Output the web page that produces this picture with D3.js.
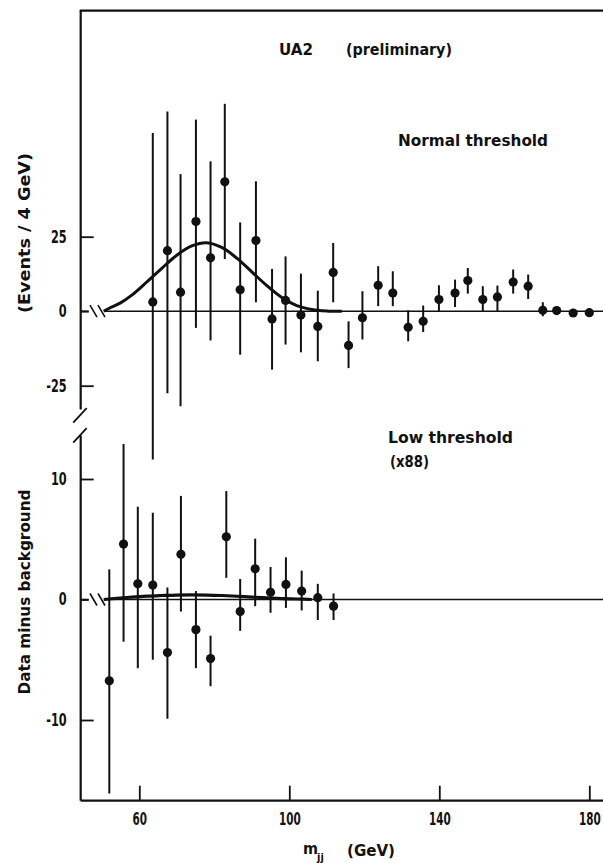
<!DOCTYPE html>
<html>
<head>
<meta charset="utf-8">
<script src="https://cdn.jsdelivr.net/npm/d3@7"></script>
<style>
  html, body { margin: 0; padding: 0; background: #fff; }
  svg { display: block; }
  text { font-family: "Liberation Sans Narrow", "DejaVu Sans Condensed", "DejaVu Sans", sans-serif; font-weight: bold; fill: #111; }
</style>
</head>
<body>
<svg id="chart" width="603" height="863"></svg>
<script>
// ---------- DATA ----------
// Upper panel: normal threshold
const topMass  = [63.6, 67.5, 71.0, 75.1, 79.0, 82.8, 86.9, 91.1, 95.4, 99.0, 103.1, 107.6, 111.7, 115.8, 119.5, 123.7, 127.6, 131.7, 135.7, 139.9, 144.2, 147.6, 151.6, 155.5, 159.7, 163.7, 167.6, 171.3, 175.7, 180.0];
const topValue = [3.1, 20.3, 6.4, 30.1, 17.9, 43.4, 7.2, 23.7, -2.6, 3.6, -1.3, -5.1, 13.0, -11.5, -2.2, 8.7, 6.1, -5.4, -3.4, 3.9, 6.1, 10.3, 3.9, 4.8, 9.8, 8.4, 0.3, 0.2, -0.6, -0.5];
const topHigh  = [59.8, 67.0, 46.0, 64.3, 50.3, 69.6, 29.8, 43.6, 14.2, 18.4, 12.6, 6.9, 22.9, -3.4, 6.7, 15.1, 13.4, 0.3, 1.9, 8.7, 10.6, 14.5, 8.4, 8.6, 14.0, 12.3, 3.0, 1.5, 0.6, 0.6];
const topLow   = [-49.8, -27.5, -31.9, -5.6, -9.8, 17.5, -14.6, 3.0, -19.6, -11.2, -13.8, -16.8, 3.0, -19.1, -9.5, 1.7, 1.7, -10.1, -7.0, 0.0, 1.4, 5.9, 0.0, 0.0, 5.9, 4.1, -1.7, -1.1, -1.8, -1.6];
const topCurveMass  = [50.5, 52, 55, 58, 62, 66, 70, 74, 78, 82, 86, 90, 94, 98, 102, 106, 110, 114];
const topCurveValue = [0, 1.0, 2.8, 5.4, 9.8, 14.4, 18.8, 21.9, 23.0, 21.4, 17.8, 13.2, 8.6, 4.6, 1.9, 0.6, 0.1, 0];

// Lower panel: low threshold (x88)
const botMass  = [52.0, 55.8, 59.6, 63.6, 67.5, 71.1, 75.1, 79.0, 83.2, 86.9, 90.9, 95.0, 99.1, 103.3, 107.6, 111.8];
const botValue = [-6.75, 4.6, 1.3, 1.2, -4.4, 3.75, -2.5, -4.9, 5.2, -1.0, 2.55, 0.6, 1.25, 0.7, 0.15, -0.55];
const botHigh  = [2.5, 12.9, 7.7, 7.2, 1.0, 8.6, 0.7, -3.0, 9.0, 1.7, 5.05, 2.7, 3.5, 2.4, 1.3, 0.5];
const botLow   = [-16.1, -3.5, -5.7, -5.0, -9.9, -1.0, -5.7, -7.2, 1.8, -2.6, -0.55, -1.1, -0.7, -0.9, -1.7, -1.7];
const botCurveMass  = [50.5, 54, 58, 62, 66, 70, 74, 78, 82, 86, 90, 94, 98, 102, 106];
const botCurveValue = [0, 0.1, 0.2, 0.28, 0.33, 0.37, 0.38, 0.37, 0.33, 0.27, 0.2, 0.14, 0.08, 0.04, 0];

// Ticks
const xTicks = [60, 100, 140, 180];
const topTicks = [25, 0, -25];
const botTicks = [10, 0, -10];

// ---------- LAYOUT ----------
const svg = d3.select("#chart");
const L = 80.7, R = 603, T = 10.7, B = 800.7;
const ink = "#111";
const FONT = '"Liberation Sans Narrow", "DejaVu Sans Condensed", "DejaVu Sans", sans-serif';
const SX = 0.68; // horizontal condensing of tick labels

const x = d3.scaleLinear().domain([60, 180]).range([139.3, 589.3]);
const yTop = d3.scaleLinear().domain([-25, 25]).range([385.7, 236.7]);
const yBot = d3.scaleLinear().domain([-10, 10]).range([720, 479]);

// frame: top border and left axis (with break), bottom axis
svg.append("line").attr("x1", L - 1).attr("x2", R).attr("y1", T).attr("y2", T)
  .attr("stroke", ink).attr("stroke-width", 2.2);
svg.append("line").attr("x1", L).attr("x2", L).attr("y1", T).attr("y2", yTop(-33))
  .attr("stroke", ink).attr("stroke-width", 2.2);
svg.append("line").attr("x1", L).attr("x2", L).attr("y1", yBot(13.6)).attr("y2", B)
  .attr("stroke", ink).attr("stroke-width", 2.2);
// break slashes on left axis
[yTop(-33), yBot(13.6) - 6].forEach(yy => {
  svg.append("line").attr("x1", L - 7.5).attr("y1", yy + 13).attr("x2", L + 6).attr("y2", yy - 1.5)
    .attr("stroke", ink).attr("stroke-width", 1.8);
});

// X axis
const xAxis = d3.axisBottom(x).tickValues(xTicks).tickSizeInner(-15).tickSizeOuter(0).tickPadding(12)
  .tickFormat(d => String(d));
const gx = svg.append("g").attr("transform", `translate(0,${B})`).call(xAxis);
gx.select(".domain").remove();
gx.append("line").attr("x1", L).attr("x2", R).attr("y1", 0).attr("y2", 0).attr("stroke", ink).attr("stroke-width", 2.2);
gx.selectAll(".tick line").attr("stroke", ink).attr("stroke-width", 1.8);
gx.selectAll(".tick text").attr("font-size", 17).attr("fill", ink)
  .style("font-family", FONT).style("font-weight", "bold")
  .attr("transform", `scale(${SX},1)`);

// Y axes (ticks pointing inward)
function yAxis(scale, ticks) {
  const ax = d3.axisLeft(scale).tickValues(ticks).tickSizeInner(-13).tickSizeOuter(0).tickPadding(14)
    .tickFormat(d => String(d));
  const g = svg.append("g").attr("transform", `translate(${L},0)`).call(ax);
  g.select(".domain").remove();
  g.selectAll(".tick line").attr("stroke", ink).attr("stroke-width", 1.8)
    .attr("x2", d => d === 0 ? 8 : 13);
  g.selectAll(".tick text").attr("font-size", 17).attr("fill", ink)
    .style("font-family", FONT).style("font-weight", "bold")
    .attr("x", -14 / 0.74).attr("transform", "scale(0.74,1)");
  return g;
}
yAxis(yTop, topTicks);
yAxis(yBot, botTicks);

// zero lines with break marks
function zeroLine(scale) {
  const y0 = scale(0);
  svg.append("line").attr("x1", L).attr("x2", L + 8).attr("y1", y0).attr("y2", y0).attr("stroke", ink).attr("stroke-width", 1.6);
  [90, 98].forEach(bx => {
    svg.append("line").attr("x1", bx).attr("y1", y0 - 6).attr("x2", bx + 7).attr("y2", y0 + 6)
      .attr("stroke", ink).attr("stroke-width", 1.6);
  });
  svg.append("line").attr("x1", 104).attr("x2", R).attr("y1", y0).attr("y2", y0).attr("stroke", ink).attr("stroke-width", 1.6);
}
zeroLine(yTop);
zeroLine(yBot);

// curves
const topLine = d3.line().x((d, i) => x(topCurveMass[i])).y(d => yTop(d)).curve(d3.curveCatmullRom);
svg.append("path").attr("d", topLine(topCurveValue)).attr("fill", "none").attr("stroke", ink).attr("stroke-width", 3);
const botLine = d3.line().x((d, i) => x(botCurveMass[i])).y(d => yBot(d)).curve(d3.curveCatmullRom);
svg.append("path").attr("d", botLine(botCurveValue)).attr("fill", "none").attr("stroke", ink).attr("stroke-width", 3.2);

// error bars and points
function points(mass, val, lo, hi, scale) {
  const g = svg.append("g");
  g.selectAll("line.err").data(mass).join("line").attr("class", "err")
    .attr("x1", d => x(d)).attr("x2", d => x(d))
    .attr("y1", (d, i) => scale(hi[i])).attr("y2", (d, i) => scale(lo[i]))
    .attr("stroke", ink).attr("stroke-width", 2);
  g.selectAll("circle").data(mass).join("circle")
    .attr("cx", d => x(d)).attr("cy", (d, i) => scale(val[i])).attr("r", 4.6).attr("fill", ink);
}
points(topMass, topValue, topLow, topHigh, yTop);
points(botMass, botValue, botLow, botHigh, yBot);

// texts
function txt(s, xx, yy, len, size) {
  return svg.append("text").attr("x", xx).attr("y", yy).attr("font-size", size || 16)
    .attr("textLength", len).attr("lengthAdjust", "spacingAndGlyphs").text(s);
}
txt("UA2", 279, 55, 34);
txt("(preliminary)", 346, 55, 106);
txt("Normal threshold", 398, 146, 150);
txt("Low threshold", 388, 443, 125);
txt("(x88)", 390, 467, 39);

// axis titles
svg.append("text").attr("transform", "translate(30,233) rotate(-90)").attr("text-anchor", "middle")
  .attr("font-size", 16).attr("textLength", 160).attr("lengthAdjust", "spacingAndGlyphs").text("(Events / 4 GeV)");
svg.append("text").attr("transform", "translate(30,592) rotate(-90)").attr("text-anchor", "middle")
  .attr("font-size", 16).attr("textLength", 205).attr("lengthAdjust", "spacingAndGlyphs").text("Data minus background");

svg.append("text").attr("x", 303).attr("y", 854).attr("font-size", 16).text("m");
svg.append("text").attr("x", 317).attr("y", 861).attr("font-size", 11).text("jj");
txt("(GeV)", 347, 856, 48);
</script>
</body>
</html>
